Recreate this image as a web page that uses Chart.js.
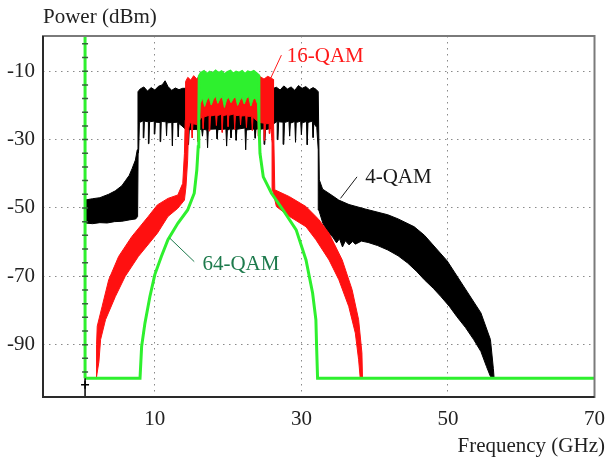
<!DOCTYPE html>
<html>
<head>
<meta charset="utf-8">
<script src="https://cdn.jsdelivr.net/npm/chart.js@4.4.0/dist/chart.umd.min.js"></script>
<style>
  html, body { margin: 0; padding: 0; background: #fff; }
</style>
</head>
<body>
<canvas id="spectrum" width="615" height="459"></canvas>
<script>
// axis ticks
const xTicks = [10, 30, 50, 70];
const yTicks = [-90, -70, -50, -30, -10];

// 4-QAM (black): upper and lower envelope of the spectrum trace
const qam4TopX = [0.48, 1.5, 2.5, 3.7, 4.6, 5.5, 6.0, 6.5, 6.9, 7.35, 7.6, 7.7,
  8.0, 8.5, 9.0, 9.5, 10.0, 10.5, 11.0, 11.4, 11.8, 12.3, 12.8, 13.3, 13.8, 16.0, 20.0, 24.0,
  26.2, 26.6, 27.1, 27.6, 28.1, 28.6, 29.1, 29.6, 30.1, 30.6, 31.1, 31.6, 32.0, 32.3,
  32.45, 32.9, 34.3, 35.1, 36.5, 38.7, 41.8, 43.2, 45.4, 46.8, 49.9, 52.2, 54.5, 55.8, 56.2, 56.3];
const qam4Top = [-47.7, -47.3, -47.0, -46.0, -45.0, -43.5, -42.0, -40.5, -38.5, -36.0, -33.0, -16.0,
  -15.2, -14.6, -15.8, -14.8, -15.5, -14.4, -14.0, -12.8, -14.5, -15.6, -14.9, -15.4, -15.0, -15.0, -15.0, -15.0,
  -15.0, -14.7, -15.5, -14.3, -15.2, -14.6, -15.6, -14.2, -15.0, -14.5, -15.4, -14.8, -15.3, -16.0,
  -41.8, -44.5, -46.5, -47.7, -49.0, -50.3, -52.0, -53.2, -55.5, -58.0, -65.5, -73.1, -80.7, -88.5, -97.0, -99.8];
const qam4BottomX = [0.48, 1.5, 2.5, 3.5, 4.5, 5.5, 6.5, 7.4, 7.65, 7.72,
  7.8, 7.9, 8.42, 8.5, 8.58, 9.12, 9.2, 9.28, 9.92, 10.0, 10.08, 10.72, 10.8, 10.88,
  11.52, 11.6, 11.68, 12.32, 12.4, 12.48, 13.12, 13.2, 13.28, 13.7,
  14.2, 14.5, 14.6, 14.7, 15.8, 15.9, 16.0, 16.4, 16.5, 16.6, 17.1, 17.2, 17.3, 18.4, 18.5, 18.6,
  19.7, 19.8, 19.9, 20.3, 20.4, 20.5, 21.0, 21.1, 21.2, 22.3, 22.4, 22.5, 23.6, 23.7, 23.8,
  24.2, 24.3, 24.4, 24.9, 25.0, 25.1, 25.9,
  26.2, 26.7, 26.8, 26.9, 27.5, 27.6, 27.7, 28.3, 28.4, 28.5, 29.1, 29.2, 29.3,
  29.9, 30.0, 30.1, 30.7, 30.8, 30.9, 31.5, 31.6, 31.7, 32.1, 32.3,
  32.38, 32.92, 33.6, 34.27, 34.8, 35.2, 35.61, 36.0, 36.5, 37.0, 37.36, 38.2, 39.11, 40.4, 41.8, 43.2,
  44.5, 45.7, 46.78, 48.0, 49.07, 50.2, 51.22, 52.4, 53.51, 54.5, 55.26, 55.8];
const qam4Bottom = [-54.4, -54.6, -54.3, -54.4, -54.0, -53.9, -53.5, -53.2, -52.5, -34.0,
  -33.0, -25.0, -24.5, -29.5, -24.6, -24.8, -31.2, -24.8, -24.6, -28.4, -24.9, -25.0, -30.6, -24.7,
  -24.8, -28.9, -25.1, -25.0, -31.8, -25.0, -24.9, -29.2, -25.3, -26.0,
  -27.0, -27.2, -31.5, -27.1, -27.0, -30.5, -26.9, -27.1, -29.0, -27.0, -27.2, -32.4, -27.0, -26.9, -29.8, -27.1,
  -26.9, -31.9, -27.3, -26.8, -29.5, -27.0, -26.8, -30.2, -27.0, -26.6, -33.0, -27.2, -26.9, -29.6, -27.0,
  -26.8, -30.0, -27.0, -26.8, -31.4, -27.1, -26.7,
  -25.4, -24.7, -30.0, -24.8, -24.9, -31.4, -25.0, -24.6, -29.0, -25.2, -24.7, -30.8, -25.0,
  -24.6, -28.6, -25.1, -24.7, -31.5, -25.0, -24.6, -29.4, -25.2, -26.5, -33.0,
  -50.6, -54.4, -57.0, -58.5, -60.2, -59.0, -61.4, -59.6, -60.8, -59.8, -60.6, -59.7, -60.1, -61.0, -62.3, -64.0,
  -66.1, -68.5, -71.0, -73.5, -76.0, -78.8, -81.8, -85.0, -88.5, -92.0, -96.4, -99.3];

// 16-QAM (red)
const qam16TopX = [2.01, 2.05, 2.14, 2.81, 3.71, 5.06, 6.85, 9.1, 10.35, 11.8, 13.14, 13.81, 14.04, 14.15, 14.2,
  14.5, 14.9, 15.3, 15.7, 16.06, 20.0, 24.17, 24.4, 24.9, 25.4, 25.9, 26.15, 26.2,
  26.37, 28.38, 30.63, 31.98, 32.42, 33.77, 35.57, 36.92, 37.81, 38.26, 38.34];
const qam16Top = [-99.8, -90.0, -84.6, -78.8, -71.0, -64.2, -58.4, -52.5, -49.1, -47.2, -46.2, -42.8, -34.0, -24.3, -13.0,
  -11.8, -12.6, -11.3, -12.2, -11.5, -12.0, -12.0, -11.6, -12.3, -11.5, -12.0, -12.4, -25.0,
  -44.7, -46.7, -49.6, -52.5, -53.5, -57.4, -65.2, -73.9, -82.7, -92.4, -99.8];
const qam16BottomX = [2.01, 2.37, 2.6, 3.27, 4.62, 5.96, 7.75, 10.35, 11.79, 13.14, 14.04, 14.25, 14.48, 14.6,
  14.8, 15.0, 15.1, 15.2, 15.8, 15.9, 16.0, 16.5, 16.6, 16.7, 17.4, 17.5, 17.6, 18.3, 18.4, 18.5,
  19.1, 19.2, 19.3, 19.9, 20.0, 20.1, 20.8, 20.9, 21.0, 21.6, 21.7, 21.8, 22.4, 22.5, 22.6,
  23.2, 23.3, 23.4, 24.1, 24.2, 24.3, 24.9, 25.0, 25.1, 25.6, 25.7, 25.8, 26.0, 26.1,
  26.59, 28.38, 30.63, 31.98, 33.77, 35.11, 36.46, 37.36, 37.81, 38.03];
const qam16Bottom = [-99.8, -95.0, -88.5, -82.7, -75.9, -70.0, -64.2, -57.4, -52.5, -50.1, -47.7, -43.8, -36.0, -27.0,
  -25.0, -25.3, -29.5, -25.4, -25.6, -30.5, -24.6, -23.2, -26.8, -23.4, -22.9, -27.5, -23.1, -22.8, -25.9, -23.0,
  -22.6, -27.9, -23.0, -22.7, -26.2, -22.9, -22.5, -27.1, -23.0, -22.9, -25.7, -23.1, -23.0, -26.5, -23.2,
  -23.2, -27.4, -23.5, -24.8, -29.0, -25.0, -25.2, -30.2, -25.4, -25.3, -28.2, -25.2, -31.0, -45.0,
  -49.6, -52.5, -55.5, -59.3, -65.2, -71.0, -78.8, -86.6, -94.4, -99.8];

// 64-QAM (green): trace incl. noise floor, plus lower edge of the in-band part
const qam64X = [0.48, 7.98, 8.2, 8.65, 9.33, 10.0, 10.89, 11.79, 13.14, 14.48, 15.38, 15.73, 15.92, 16.0, 16.06,
  16.3, 16.7, 17.1, 17.5, 17.9, 18.3, 18.7, 19.1, 19.5, 19.9, 20.3, 20.7, 21.1, 21.5, 21.9, 22.3, 22.7, 23.1, 23.5, 23.9, 24.17,
  24.2, 24.35, 24.8, 25.92, 27.5, 29.29, 30.63, 31.53, 31.98, 32.07, 32.21, 70];
const qam64 = [-99.84, -99.84, -90.5, -83.7, -75.9, -69.5, -64.2, -59.3, -54.5, -50.6, -45.7, -38.9, -32.1, -24.3, -11.5,
  -10.6, -10.1, -11.0, -10.3, -10.8, -10.0, -10.7, -10.2, -11.1, -10.4, -10.0, -10.9, -10.3, -10.6, -10.1, -11.0, -10.2, -10.5, -10.1, -10.8, -11.3,
  -24.3, -34.0, -40.9, -45.7, -50.6, -56.4, -65.2, -74.9, -82.7, -90.0, -99.84, -99.84];
const qam64BottomX = [16.06, 16.2, 16.5, 16.8, 17.1, 17.4, 17.7, 18.0, 18.3, 18.6, 18.9, 19.2, 19.5, 19.8, 20.1,
  20.4, 20.7, 21.0, 21.3, 21.6, 21.9, 22.2, 22.5, 22.8, 23.1, 23.4, 23.7, 24.0, 24.17];
const qam64Bottom = [-24.0, -19.5, -17.8, -20.3, -18.4, -17.6, -19.9, -18.2, -17.3, -19.4, -18.0, -17.5, -20.6, -18.3, -17.7,
  -19.2, -18.1, -17.4, -20.0, -18.5, -17.6, -19.6, -18.0, -17.4, -20.2, -18.3, -17.8, -19.5, -24.0];

// vertical marker trace at the start of the sweep
const startX = 0.48;
const startLineY = [0.3, -99.84];
const startStubY = [-99.84, -105.3];
const startCrossY = [-101.7];
const startMarksY = [-2, -6, -10, -14, -18, -22, -26, -30, -34, -38, -42, -46, -50,
  -54, -58, -62, -66, -70, -74, -78, -82, -86, -90, -94, -98];

const callouts = [
  { text: '16-QAM', color: '#ff1a1a', at: [28.0, -7.3], from: [27.27, -5.3], to: [25.69, -12.6] },
  { text: '4-QAM', color: '#1a1a1a', at: [38.7, -42.7], from: [37.59, -40.9], to: [35.34, -47.2] },
  { text: '64-QAM', color: '#1d7a4c', at: [16.5, -68.1], from: [15.38, -65.7], to: [12.02, -58.8] }
];

const BLACK = '#000000';
const RED = '#ff1010';
const GREEN = '#2ef02e';
const SERIF = '"Liberation Serif", "Times New Roman", serif';

const toPoints = (xs, ys) => xs.map((x, i) => ({ x, y: ys[i] }));
const band = (topX, top, botX, bot) => toPoints(topX, top).concat(toPoints(botX, bot).reverse());
const vertical = ys => ys.map(y => ({ x: startX, y }));

const qam64Trace = toPoints(qam64X, qam64);
const qam64Block = qam64Trace.filter(p => p.x >= 16 && p.x <= 24.2)
  .concat(toPoints(qam64BottomX, qam64Bottom).reverse());

const frameAndText = {
  id: 'frameAndText',
  afterDraw(chart) {
    const { ctx, chartArea: a, scales: { x, y } } = chart;
    ctx.save();
    ctx.lineWidth = 2;
    ctx.strokeStyle = '#7a7a7a';
    ctx.strokeRect(a.left, a.top, a.right - a.left, a.bottom - a.top);
    ctx.strokeStyle = '#2a2a2a';
    ctx.beginPath();
    ctx.moveTo(a.left, a.top);
    ctx.lineTo(a.left, a.bottom);
    ctx.lineTo(a.right, a.bottom);
    ctx.stroke();

    ctx.font = '21px ' + SERIF;
    ctx.textBaseline = 'alphabetic';
    callouts.forEach(c => {
      ctx.strokeStyle = c.color;
      ctx.lineWidth = 1;
      ctx.beginPath();
      ctx.moveTo(x.getPixelForValue(c.from[0]), y.getPixelForValue(c.from[1]));
      ctx.lineTo(x.getPixelForValue(c.to[0]), y.getPixelForValue(c.to[1]));
      ctx.stroke();
      ctx.fillStyle = c.color;
      ctx.textAlign = 'left';
      ctx.fillText(c.text, x.getPixelForValue(c.at[0]), y.getPixelForValue(c.at[1]));
    });

    ctx.fillStyle = '#222';
    ctx.textAlign = 'left';
    ctx.fillText('Power (dBm)', a.left, 22.7);
    ctx.textAlign = 'right';
    ctx.fillText('Frequency (GHz)', 605, 451.5);
    ctx.restore();
  }
};

new Chart(document.getElementById('spectrum'), {
  type: 'line',
  data: {
    datasets: [
      { label: '4-QAM', data: band(qam4TopX, qam4Top, qam4BottomX, qam4Bottom), borderColor: BLACK,
        backgroundColor: BLACK, borderWidth: 1, fill: 'shape', order: 6 },
      { label: '16-QAM', data: band(qam16TopX, qam16Top, qam16BottomX, qam16Bottom), borderColor: RED,
        backgroundColor: RED, borderWidth: 1, fill: 'shape', order: 5 },
      { label: '64-QAM band', data: qam64Block, borderColor: GREEN, backgroundColor: GREEN,
        borderWidth: 1, fill: 'shape', order: 4 },
      { label: '64-QAM', data: qam64Trace, borderColor: GREEN, borderWidth: 3, fill: false, order: 3 },
      { label: 'start', data: vertical(startLineY), borderColor: GREEN, borderWidth: 3, fill: false, order: 2 },
      { label: 'stub', data: vertical(startStubY), borderColor: BLACK, borderWidth: 1.5, fill: false, order: 1 },
      { label: 'cross', data: vertical(startCrossY), showLine: false, pointStyle: 'cross', pointRadius: 4,
        pointBorderColor: BLACK, pointBorderWidth: 1.5, order: 0 },
      { label: 'marks', data: vertical(startMarksY), showLine: false, pointStyle: 'line', pointRadius: 3,
        pointBorderColor: '#35653a', pointBorderWidth: 1.5, order: 0 }
    ]
  },
  options: {
    responsive: false,
    animation: false,
    layout: { padding: { top: 36, right: 13, left: 0, bottom: 0 } },
    elements: { point: { radius: 0, hoverRadius: 0 }, line: { tension: 0 } },
    plugins: { legend: { display: false }, tooltip: { enabled: false } },
    scales: {
      x: {
        type: 'linear',
        min: -5.26,
        max: 70,
        afterBuildTicks: s => { s.ticks = xTicks.map(v => ({ value: v })); },
        afterFit: s => { s.height = 62; },
        grid: { color: '#8a8a8a', lineWidth: 1, drawTicks: false },
        border: { display: false, dash: [1.5, 4.5] },
        ticks: { autoSkip: false, maxRotation: 0, padding: 10, color: '#222',
          font: { family: SERIF, size: 21 } }
      },
      y: {
        type: 'linear',
        min: -105.3,
        max: 0.3,
        afterBuildTicks: s => { s.ticks = yTicks.map(v => ({ value: v })); },
        afterFit: s => { s.width = 43; },
        grid: { color: '#8a8a8a', lineWidth: 1, drawTicks: false },
        border: { display: false, dash: [1.5, 4.5] },
        ticks: { padding: 8, color: '#222', font: { family: SERIF, size: 21 } }
      }
    }
  },
  plugins: [frameAndText]
});
</script>
</body>
</html>
